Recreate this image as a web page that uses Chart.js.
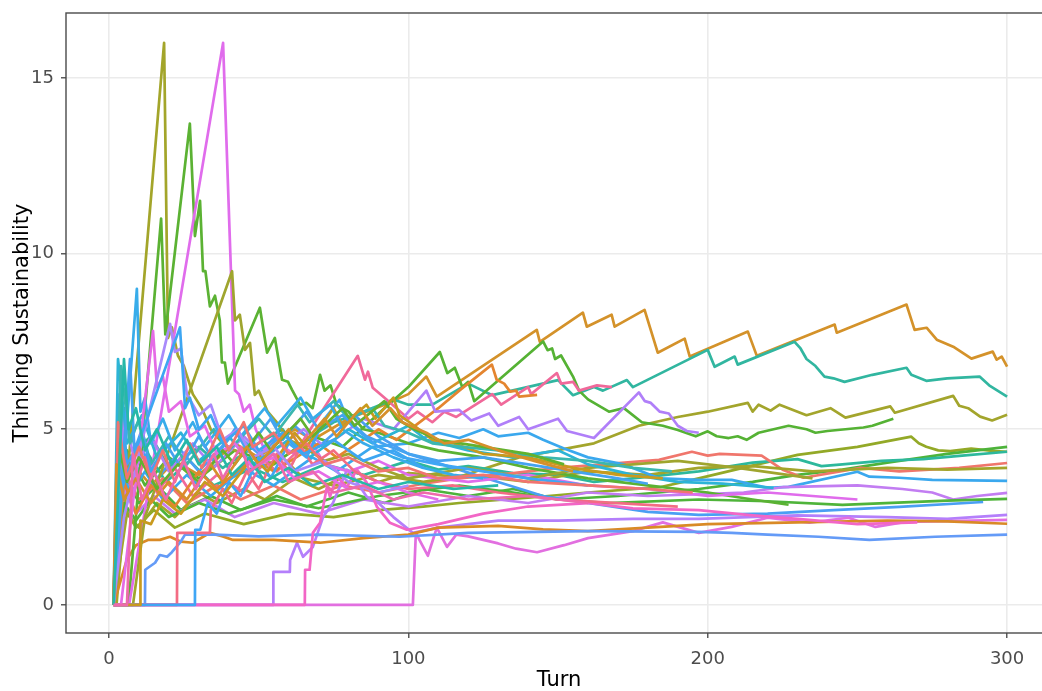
<!DOCTYPE html>
<html><head><meta charset="utf-8">
<script src="https://cdn.jsdelivr.net/npm/chart.js@4.4.1/dist/chart.umd.min.js"></script>
<style>
html,body{margin:0;padding:0;background:#fff;overflow:hidden;width:1042px;height:691px;}
#wrap{position:relative;width:1060px;height:691px;}
</style></head><body>
<div id="wrap"><canvas id="c" width="1060" height="691"></canvas></div>
<script>
// ---- tick labels / axis titles ----
const xTickValues = [0, 100, 200, 300];
const yTickValues = [0, 5, 10, 15];
const xTitle = "Turn";
const yTitle = "Thinking Sustainability";

// ---- series: [turn, value] pairs ----
const orangeTop = [[1.5,0],[4,3.2],[8,4.0],[14,3.4],[22,4.1],[30,3.7],[42,4.6],[50,4.2],[62,5.0],[68,4.7],[80,5.3],[92,5.7],[100,6.0],[106,6.5],[109.5,5.93],[142.9,7.83],[143.9,7.49],[158.3,8.32],[159.6,7.92],[167.9,8.26],[168.9,7.92],[178.9,8.4],[183.3,7.18],[192.3,7.58],[194,7.07],[213.4,7.78],[216.4,7.09],[242.4,7.98],[243.1,7.75],[266.4,8.55],[269.1,7.83],[273.1,7.89],[276.5,7.55],[282,7.35],[288.1,7.01],[295.2,7.21],[296.5,6.98],[298.2,7.07],[300,6.78]];
const tealTop = [[1.5,0],[5,5.6],[9,4.4],[14,4.8],[20,3.9],[30,4.5],[38,3.9],[50,4.6],[58,5.0],[62,4.5],[75,5.2],[85,5.5],[95,5.85],[100,5.7],[108,5.7],[120,6.3],[128,5.97],[150,6.4],[155,5.97],[162,6.2],[165,6.1],[173,6.4],[175,6.2],[200,7.26],[202.3,6.78],[209,7.07],[210,6.84],[229,7.49],[231,7.3],[233,7.0],[236,6.8],[239,6.5],[242,6.45],[245.7,6.35],[255,6.55],[266.4,6.75],[268,6.55],[273,6.38],[280,6.45],[290.8,6.5],[294,6.25],[300,5.93]];
const oliveRight = [[1.5,0],[6,2.6],[10,2.2],[16,2.9],[22,2.5],[30,3.2],[36,2.9],[45,3.3],[52,3.0],[62,3.6],[70,3.3],[82,3.8],[90,3.5],[100,3.75],[117,3.65],[137,4.2],[162,4.6],[177,5.1],[190,5.35],[200,5.5],[213.4,5.75],[215,5.5],[217,5.7],[221,5.53],[224,5.7],[233,5.4],[241,5.6],[246,5.33],[261,5.65],[262.5,5.47],[282,5.95],[284,5.67],[287,5.6],[291,5.36],[295,5.25],[300,5.41]];
const greenEnd262 = [[1.5,0],[6,4.4],[12,3.4],[20,4.2],[30,3.6],[42,4.4],[55,4.0],[68,4.8],[78,4.5],[92,5.6],[100,6.2],[110.5,7.2],[113,6.6],[115.5,6.75],[118,6.2],[120,6.35],[122,5.8],[145,7.5],[146.5,7.25],[148,7.3],[149,7.0],[151,7.1],[155,6.5],[157,6.1],[160,5.85],[167,5.5],[172,5.6],[178,5.2],[185,5.1],[190,4.98],[196,4.8],[200,4.94],[203,4.8],[207,4.75],[210,4.8],[213,4.7],[217,4.9],[227,5.1],[233,5.0],[236,4.9],[240,4.95],[246,5.0],[252,5.05],[255,5.1],[262,5.3]];
const ygreenPeak = [[1.5,0],[5,2.8],[9,2.2],[15,2.7],[22,2.2],[32,2.6],[45,2.3],[60,2.6],[75,2.5],[90,2.7],[105,2.8],[117,2.9],[140,3.05],[160,3.2],[184,3.35],[197,3.6],[230,4.27],[250,4.5],[268,4.79],[270.5,4.6],[273,4.5],[277,4.4],[281,4.38],[288,4.45],[296,4.38],[300,4.36]];
const greenRise = [[1.5,0],[6,3.6],[10,2.9],[16,3.4],[24,2.7],[34,3.1],[44,2.7],[56,3.1],[66,2.8],[80,3.2],[92,2.9],[105,3.3],[120,3.1],[135,3.3],[150,3.0],[170,3.1],[197,3.3],[215,3.5],[230,3.7],[245,3.85],[260,4.05],[280,4.3],[300,4.5]];
const tealEnd = [[1.5,0],[4,5.0],[8,3.6],[13,4.3],[19,3.5],[27,4.1],[35,3.4],[48,3.9],[58,3.5],[72,4.0],[85,3.7],[100,4.1],[110,3.85],[120,3.95],[135,3.75],[150,3.7],[162,3.5],[175,3.6],[197,3.8],[215,4.05],[230,4.15],[238,3.95],[245,4.0],[258,4.1],[272,4.15],[285,4.25],[300,4.36]];
const redRight = [[1.5,0],[5,3.8],[10,3.0],[18,3.6],[26,2.9],[36,3.4],[44,3.0],[55,3.4],[64,3.0],[78,3.4],[90,3.2],[105,3.45],[117,3.6],[135,3.75],[150,3.9],[165,4.0],[183.7,4.13],[194.7,4.36],[200,4.25],[204,4.3],[218,4.25],[225,3.85],[232,3.62],[251,3.9],[264,3.8],[284,3.9],[300,4.04]];
const oliveSpike = [[1.5,0],[2.5,0],[18.4,16],[19.7,7.6],[21,7.9],[23,7.1],[25,6.8],[28,6.0],[31,5.6],[34,5.0],[38,4.6],[44,4.3],[50,3.9],[58,4.2],[65,3.6],[75,3.4],[90,3.7],[105,3.5],[120,3.7],[140,3.5],[160,3.8],[180,3.7],[197,3.9],[215,3.95],[235,3.8],[260,3.9],[280,3.85],[300,3.9]];
const blueEnd353 = [[1.5,0],[4,4.2],[7,3.1],[12,3.8],[18,3.0],[26,3.7],[34,3.1],[45,3.9],[55,3.4],[68,4.2],[76,3.8],[88,4.5],[100,4.6],[110,4.9],[117,4.75],[125,5.0],[130,4.8],[140,4.9],[145,4.7],[152,4.45],[160,4.2],[172,4.0],[184,3.6],[197,3.56],[208,3.56],[220,3.33],[227,3.36],[250,3.79],[254,3.65],[264,3.62],[275,3.56],[300,3.53]];
const purpleEnd319 = [[1.5,0],[5,3.3],[9,2.6],[15,3.1],[22,2.6],[32,3.0],[42,2.5],[55,2.9],[70,2.6],[85,3.0],[100,2.8],[120,3.1],[140,2.9],[160,3.2],[180,3.1],[197,3.15],[212,3.2],[225,3.35],[250,3.4],[265,3.3],[275,3.2],[282,3.0],[290,3.1],[300,3.19]];
const greenEnd302 = [[1.5,0],[5,2.9],[9,2.4],[14,3.0],[20,2.5],[30,2.9],[40,2.6],[55,3.0],[70,2.75],[90,3.1],[117,3.4],[135,3.2],[150,3.0],[167,2.9],[197,3.0],[220,2.95],[245,2.85],[280,2.97],[300,3.02]];
const blueEnd293 = [[1.5,0],[3.5,6.0],[6,4.0],[10,4.6],[16,3.6],[24,4.4],[30,3.8],[42,4.9],[50,4.3],[62,5.1],[70,4.5],[82,5.4],[90,4.8],[100,4.3],[115,3.9],[130,3.5],[145,3.1],[160,2.9],[180,2.65],[197,2.56],[220,2.6],[242,2.7],[264,2.79],[292,2.93]];
const purpleEnd256 = [[1.5,0],[54.8,0],[54.9,0.94],[60.4,0.94],[60.5,1.28],[62.8,1.77],[64.8,1.37],[68.1,1.65],[71.5,2.5],[74.8,2.9],[79.5,3.85],[82,3.6],[86.1,3.08],[90,2.9],[95,2.5],[101.5,2.05],[110,2.2],[130,2.4],[150,2.4],[175,2.45],[197,2.45],[230,2.55],[260,2.5],[280,2.45],[300,2.56]];
const magentaEnd242 = [[1.5,0],[101.5,0],[102.5,2.05],[104,1.8],[106.5,1.4],[109.5,2.2],[112.9,1.65],[116,2.0],[120,1.95],[125,1.85],[130,1.75],[136,1.6],[143,1.5],[152,1.7],[160,1.9],[175,2.1],[185,2.35],[197,2.05],[208,2.22],[220,2.48],[234,2.34],[247,2.48],[256,2.22],[266,2.36],[300,2.42]];
const orangeBottom = [[1.5,0],[6,1.3],[9,1.7],[13,1.85],[17,1.85],[20.4,1.94],[24,1.8],[28,1.77],[33.7,2.05],[38,1.95],[41.4,1.85],[55,1.85],[70.5,1.77],[85,1.9],[100,2.0],[110,2.2],[130,2.25],[145,2.15],[160,2.1],[180,2.2],[200,2.3],[230,2.35],[260,2.4],[280,2.38],[300,2.31]];
const periwinkle = [[1.5,0],[12,0],[12.1,1.0],[15.4,1.2],[17,1.42],[19.4,1.37],[21,1.5],[23.7,1.77],[25.4,2.0],[35,2.0],[50,1.95],[70,2.0],[97,1.94],[120,2.05],[160,2.1],[197,2.08],[208,2.05],[220,2.0],[237,1.94],[254,1.85],[276,1.94],[300,2.0]];
const greenSpike = [[1.5,0],[6.5,0],[14.4,8.0],[17.4,11.0],[18.8,7.7],[27,13.7],[28.7,10.5],[30.4,11.5],[31.4,9.5],[32.2,9.5],[33.7,8.5],[35.4,8.8],[37,8.1],[37.7,6.9],[38.7,6.9],[39.7,6.3],[50.4,8.46],[52.8,7.18],[55.4,7.6],[57.8,6.41],[59.8,6.35],[61.1,6.13],[63.8,5.7],[66,5.75],[68,5.6],[70.5,6.55],[72,6.1],[74,6.25],[76,5.7],[80,5.5],[85,5.0],[90,4.9],[100,4.6],[110,4.4],[125,4.2],[140,3.9],[160,3.6],[180,3.4],[200,3.2],[215,3.0],[227,2.85]];
const magentaSpike = [[1.5,0],[6.7,0],[38.1,16],[42.1,6.1],[43.4,6.0],[45,5.5],[47,5.7],[49,5.0],[52,4.4],[56,4.9],[58,4.5],[62,4.3],[68,4.6],[72,4.0],[80,3.8],[90,4.1],[100,3.7],[120,3.5],[140,3.7],[160,3.4],[180,3.3],[200,3.1],[220,3.2],[250,3.0]];
const olive2 = [[1.5,0],[8,0],[12,2.5],[20,4.4],[41.1,9.5],[42.1,8.1],[43.7,8.26],[45.4,7.26],[47.1,7.46],[48.7,5.98],[50,6.1],[53,5.5],[56,5.2],[60,4.7],[65,4.5],[72,4.1],[80,4.3],[90,3.9],[100,3.6],[120,3.9],[140,3.6],[160,3.9],[190,4.1],[210,3.9],[235,3.6]];
const pinkPeak = [[1.5,0],[4,4.5],[8,3.1],[12,4.2],[16,3.2],[22,3.9],[28,3.1],[36,3.7],[45,3.2],[52,4.1],[56,3.8],[62,4.3],[83.1,7.09],[85.5,6.41],[86.5,6.64],[88.1,6.18],[92.8,5.84],[96,5.6],[100,5.3],[103,5.5],[108,5.2],[112,5.5],[116,5.35],[128,6.0],[131,5.7],[140,6.2],[141,6.0],[149.6,6.6],[151,6.3],[155,6.35],[157,6.1],[163,6.25],[168,6.2]];
const redOrange = [[1.5,0],[5,3.5],[9,2.6],[14,3.4],[22,2.8],[30,3.8],[36,3.3],[48,4.2],[55,3.8],[70,4.6],[76,4.2],[90,5.0],[96,4.7],[110,5.6],[117,6.1],[127.9,6.84],[129.5,6.41],[132,6.3],[134,6.07],[136,6.1],[137,5.93],[143,5.98]];
const purpleEnd197 = [[1.5,0],[5,5.5],[9,3.9],[14,4.8],[20,3.8],[28,4.6],[35,3.9],[45,4.8],[52,4.2],[65,5.0],[72,4.5],[85,5.3],[95,5.0],[106,6.1],[109,5.5],[117,5.55],[121,5.25],[127,5.45],[130,5.1],[137,5.35],[140,5.0],[150,5.3],[153,4.95],[162,4.75],[177,6.05],[179,5.8],[181,5.75],[184,5.5],[187,5.45],[190,5.1],[193,4.95],[197,4.9]];
const cyanEnd222 = [[1.5,0],[3,7.0],[6,4.6],[11,5.4],[16,4.2],[24,4.9],[30,4.1],[40,4.8],[48,4.0],[60,4.7],[67,4.2],[80,5.0],[88,4.6],[100,5.1],[106,4.7],[120,4.4],[135,4.2],[150,4.4],[160,4.0],[175,3.7],[190,3.5],[205,3.45],[222,3.33]];
const pink65 = [[1.5,0],[65.4,0],[65.5,1.0],[67,1.0],[68.1,2.05],[70.5,2.34],[72.8,3.36],[73.8,3.08],[76.1,3.65],[79.5,3.36],[82.8,3.85],[86.1,3.48],[89.5,2.79],[93.8,2.34],[99.5,2.14],[110,2.3],[125,2.6],[140,2.8],[160,2.9],[175,2.75],[197,2.7],[215,2.55],[230,2.45],[250,2.3],[270,2.35]];
const pinkRed22 = [[1.5,0],[22.7,0],[22.8,2.05],[33.7,2.05],[34,2.7],[38,3.3],[41,2.9],[46,3.8],[50,3.3],[56,4.3],[60,3.8],[64,4.5],[68,4.0],[75,4.4],[82,3.8],[90,3.5],[100,3.3],[115,3.4],[130,3.2],[150,3.0],[170,2.9],[190,2.8]];
const blue28 = [[1.5,0],[28.7,0],[28.8,2.14],[30.5,2.14],[33,2.9],[36,2.6],[40,3.5],[44,3.1],[50,4.2],[54,3.6],[60,4.6],[66,4.2],[72,5.3],[77,5.84],[80,5.2],[84,4.9],[90,4.5],[98,4.2],[110,4.0],[125,3.8],[140,3.6],[160,3.4]];
const gold = [[1.5,0],[10.4,0],[10.5,2.4],[14,2.3],[18,3.0],[24,2.6],[32,3.5],[38,3.1],[48,4.2],[53,3.8],[62,4.9],[66,4.5],[75,5.6],[78,5.1],[86,5.7],[89,5.3],[95,5.9],[97,5.4],[102,5.1],[108,4.7],[115,4.6],[125,4.3],[140,4.2],[155,3.9],[170,3.7],[185,3.6]];
const tealMid = [[1.5,0],[4,6.8],[7,4.6],[10,5.3],[14,4.0],[20,4.8],[26,4.0],[35,5.0],[40,4.4],[50,5.3],[55,4.8],[63,5.7],[67,5.2],[75,5.8],[80,5.3],[88,5.6],[92,5.1],[100,4.9],[108,4.6],[118,4.5],[130,4.4],[145,4.2],[160,4.1],[175,3.9],[188,3.8]];
const cyanSpike = [[1.5,0],[9.3,9.0],[10.5,5.5],[12,5.9],[14,4.6],[18,5.3],[22,4.4],[28,5.2],[32,4.5],[40,5.4],[44,4.8],[52,5.6],[56,5.1],[64,5.9],[68,5.3],[74,5.7],[78,5.0],[85,4.6],[95,4.2],[105,3.9],[115,3.7],[125,3.6]];
const blueSpike2 = [[1.5,0],[7,7.0],[8.5,4.4],[11,5.0],[14,3.8],[19,4.6],[24,3.9],[30,4.8],[35,4.1],[42,5.0],[46,4.4],[54,5.3],[58,4.7],[66,5.5],[70,5.0],[78,5.4],[86,4.8],[94,4.5],[100,4.3],[110,4.1],[125,4.2],[140,4.0],[155,3.8],[170,3.6],[180,3.45]];
const magentaSpike2 = [[1.5,0],[4,0],[14.7,7.8],[16,6.2],[18,6.5],[20,5.5],[24,5.8],[27,4.8],[32,5.1],[36,4.3],[42,4.6],[48,3.9],[55,4.2],[62,3.6],[70,3.8],[80,3.3],[90,3.5],[100,3.2],[110,3.0]];
const purpleSpike = [[1.5,0],[5,2.5],[20.4,8.0],[22,7.2],[24,7.3],[26,6.0],[30,5.4],[34,5.7],[38,4.7],[43,5.0],[48,4.2],[55,4.5],[62,3.8],[72,4.1],[80,3.5],[90,3.2],[100,3.4]];
const blueSpike3 = [[1.5,0],[3,3.0],[23.7,7.9],[25.4,5.6],[27,5.9],[30,5.0],[34,5.4],[38,4.6],[45,5.1],[50,4.4],[58,4.9],[65,4.3],[75,4.7],[85,4.1],[95,4.4],[105,3.9]];
const greenMid = [[1.5,0],[3,4.6],[6,3.5],[10,4.2],[16,3.3],[23,4.0],[30,3.5],[38,4.4],[42,4.0],[50,4.9],[54,4.4],[64,5.3],[68,4.8],[78,5.6],[82,5.1],[92,5.8],[96,5.3],[102,5.0],[110,4.7],[125,4.5],[140,4.3],[152,4.0]];
const redMid = [[1.5,0],[3,5.2],[6,3.6],[10,4.5],[14,3.6],[18,4.4],[22,3.5],[27,4.6],[31,3.9],[37,5.0],[40,4.4],[45,5.2],[48,4.5],[55,4.9],[60,4.3],[66,4.6],[72,4.0],[80,4.2],[90,3.8],[100,3.9],[110,3.6],[125,3.7],[140,3.5],[160,3.4],[180,3.3],[195,3.2]];
const orangeMid = [[1.5,0],[2.5,4.0],[5,3.0],[9,3.6],[14,2.9],[20,3.5],[26,3.0],[34,4.0],[38,3.5],[46,4.5],[50,4.0],[60,5.0],[64,4.5],[72,5.3],[76,4.8],[84,5.6],[88,5.1],[94,5.6],[98,5.2],[106,4.9],[112,4.6],[120,4.7],[130,4.4],[142,4.1],[155,3.8]];
const tealSpike = [[1.5,0],[5,7.0],[6.5,5.0],[9,5.6],[12,4.4],[16,5.0],[21,4.0],[26,4.7],[30,4.0],[36,4.5],[41,3.7],[47,4.2],[52,3.5],[60,3.9],[68,3.4],[78,3.7],[90,3.3],[100,3.5],[115,3.3],[130,3.4]];
const pinkMid = [[1.5,0],[6,0],[8,4.3],[11,3.0],[15,3.8],[19,3.0],[25,4.1],[29,3.3],[35,4.3],[38,3.6],[44,4.5],[47,3.8],[55,4.3],[60,3.5],[68,3.8],[75,3.2],[85,3.4],[95,3.0],[105,3.2],[120,3.0],[140,3.1],[160,2.9]];

// ---- drawing order and line colours (style, kept apart from the data) ----
const seriesList = [pinkMid, tealSpike, orangeMid, redMid, greenMid, blueSpike3, purpleSpike, magentaSpike2,
  blueSpike2, cyanSpike, tealMid, gold, blue28, pinkRed22, pink65, cyanEnd222, purpleEnd197, redOrange,
  pinkPeak, olive2, magentaSpike, greenSpike, periwinkle, orangeBottom, magentaEnd242, purpleEnd256,
  blueEnd293, greenEnd302, purpleEnd319, blueEnd353, oliveSpike, redRight, tealEnd, greenRise, ygreenPeak,
  greenEnd262, oliveRight, tealTop, orangeTop];
const seriesColors = ['#EE6AAB','#26B8A8','#D68F2B','#F17470','#62B22F','#3DA6F2','#A98AFB','#E56CE6',
  '#45A3F0','#38ACEA','#3BB7AE','#C99A1E','#3FA6F5','#F36C84','#F266C6','#2DB4D6','#B07FF9','#E48530',
  '#F0699A','#9FA52E','#E06CEC','#5BB233','#649BF7','#D98A26','#E26FE0','#B47FFB',
  '#4A9FF3','#4FB43A','#C27DF2','#3AA8EE','#A3A52A','#F0766C','#2DB89C','#4DB33B','#93A927',
  '#55B234','#A3A52C','#31B6A0','#D4922A'];

const FONT = "'DejaVu Sans', 'Liberation Sans', sans-serif";

const datasets = seriesList.map((s, i) => ({
  data: s.map(p => ({x: p[0], y: p[1]})),
  borderColor: seriesColors[i],
  backgroundColor: seriesColors[i],
  borderWidth: 2.7,
  pointRadius: 0,
  pointHoverRadius: 0,
  tension: 0,
  fill: false,
  borderJoinStyle: 'round',
  borderCapStyle: 'butt'
}));

const panelBorder = {
  id: 'panelBorder',
  afterDraw(chart) {
    const a = chart.chartArea, ctx = chart.ctx;
    ctx.save();
    ctx.strokeStyle = '#4a4a4a';
    ctx.lineWidth = 1.4;
    ctx.strokeRect(a.left, a.top, a.right - a.left, a.bottom - a.top);
    ctx.restore();
  }
};

new Chart(document.getElementById('c'), {
  type: 'line',
  data: { datasets },
  options: {
    responsive: false,
    animation: false,
    devicePixelRatio: 1,
    layout: { padding: { left: 0, right: 8, top: 13, bottom: 0 } },
    plugins: { legend: { display: false }, tooltip: { enabled: false } },
    scales: {
      x: {
        type: 'linear',
        min: -14.37, max: 315,
        afterBuildTicks: s => { s.ticks = xTickValues.map(v => ({value: v})); },
        afterFit: s => { s.height = 58; },
        grid: { color: '#EBEBEB', lineWidth: 1.6, drawTicks: true, tickLength: 5, tickColor: '#333333', tickWidth: 1.2 },
        border: { display: false },
        ticks: { color: '#4D4D4D', font: { family: FONT, size: 18 }, padding: 11, maxRotation: 0 },
        title: { display: true, text: xTitle, color: '#000', font: { family: FONT, size: 21, lineHeight: 1 }, padding: { top: 0, bottom: 0 } }
      },
      y: {
        type: 'linear',
        min: -0.8, max: 16.85,
        afterBuildTicks: s => { s.ticks = yTickValues.map(v => ({value: v})); },
        afterFit: s => { s.width = 66; },
        grid: { color: '#EBEBEB', lineWidth: 1.6, drawTicks: true, tickLength: 5, tickColor: '#333333', tickWidth: 1.2 },
        border: { display: false },
        ticks: { color: '#4D4D4D', font: { family: FONT, size: 18, lineHeight: 0.4 }, padding: 7 },
        title: { display: true, text: yTitle, color: '#000', font: { family: FONT, size: 21, lineHeight: 1 }, padding: { top: 12, bottom: 0 } }
      }
    }
  },
  plugins: [panelBorder]
});
</script>
</body></html>
